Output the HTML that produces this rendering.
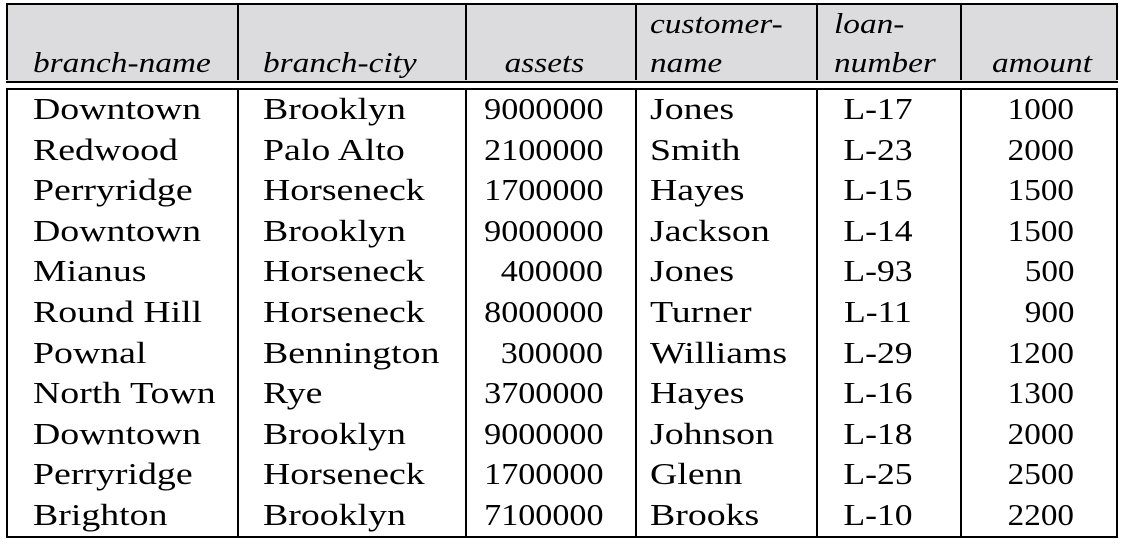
<!DOCTYPE html>
<html><head><meta charset="utf-8"><style>
body{margin:0;width:1127px;height:550px;background:#fff;position:relative;overflow:hidden;font-family:"Liberation Serif",serif;color:#000}
.ab{position:absolute}
.hl{position:absolute;background:#000;height:2px}
.vl{position:absolute;background:#000;width:2px}
.h{position:absolute;font-style:italic;font-size:29px;line-height:32px;white-space:nowrap;transform:scaleX(1.15)}
.c{position:absolute;font-size:31px;line-height:34px;white-space:nowrap}
</style></head><body>
<div class="ab" style="left:7px;top:4px;width:1110px;height:77px;background:#dcdcdf"></div>
<div class="hl" style="left:6px;top:3px;width:1112px"></div>
<div class="hl" style="left:6px;top:81px;width:1112px"></div>
<div class="hl" style="left:6px;top:88px;width:1112px"></div>
<div class="hl" style="left:6px;top:536px;width:1112px"></div>
<div id="cols"></div>
<div id="cells"></div>
<script>
const colLines=[6,237,465,635,816,960,1116];
const cols=document.getElementById('cols');
colLines.forEach((x,i)=>{
  [[3,80],[88,538]].forEach(([t,b],j)=>{
    const d=document.createElement('div');
    d.className='vl';
    
    
    d.style.left=x+'px';d.style.top=t+'px';d.style.height=(b-t)+'px';
    cols.appendChild(d);
  });
});
const headers=[["","branch-name"],["","branch-city"],["","assets"],["customer-","name"],["loan-","number"],["","amount"]];
const rows=[
["Downtown","Brooklyn","9000000","Jones","L-17","1000"],
["Redwood","Palo Alto","2100000","Smith","L-23","2000"],
["Perryridge","Horseneck","1700000","Hayes","L-15","1500"],
["Downtown","Brooklyn","9000000","Jackson","L-14","1500"],
["Mianus","Horseneck","400000","Jones","L-93","500"],
["Round Hill","Horseneck","8000000","Turner","L-11","900"],
["Pownal","Bennington","300000","Williams","L-29","1200"],
["North Town","Rye","3700000","Hayes","L-16","1300"],
["Downtown","Brooklyn","9000000","Johnson","L-18","2000"],
["Perryridge","Horseneck","1700000","Glenn","L-25","2500"],
["Brighton","Brooklyn","7100000","Brooks","L-10","2200"]];
const hAlign=[["l",33],["l",263],["r",584],["l",650],["l",834],["r",1092]];
const bAlign=[["l",33],["l",263],["r",603],["l",650],["c",878],["r",1074]];
const colScale=[1.22,1.22,1.1,1.22,1.15,1.07];
const cells=document.getElementById('cells');
function place(el,al,x){
  if(al==="l"){el.style.left=x+'px';el.style.transformOrigin='left center';}
  else if(al==="r"){el.style.right=(1127-x)+'px';el.style.transformOrigin='right center';}
  else {el.style.left=(x-100)+'px';el.style.width='200px';el.style.textAlign='center';el.style.transformOrigin='center center';}
}
headers.forEach((h,i)=>{
  h.forEach((t,j)=>{
    if(!t) return;
    const d=document.createElement('div');
    d.className='h';
    
    
    d.textContent=t;
    d.style.top=(j===0?8:47)+'px';
    place(d,hAlign[i][0],hAlign[i][1]);
    cells.appendChild(d);
  });
});
rows.forEach((r,ri)=>{
  r.forEach((t,ci)=>{
    const d=document.createElement('div');
    d.className='c';
    
    
    d.textContent=t;
    d.style.top=(92+ri*40.6)+'px';
    d.style.transform='scaleX('+colScale[ci]+')';
    place(d,bAlign[ci][0],bAlign[ci][1]);
    cells.appendChild(d);
  });
});
</script>
</body></html>
